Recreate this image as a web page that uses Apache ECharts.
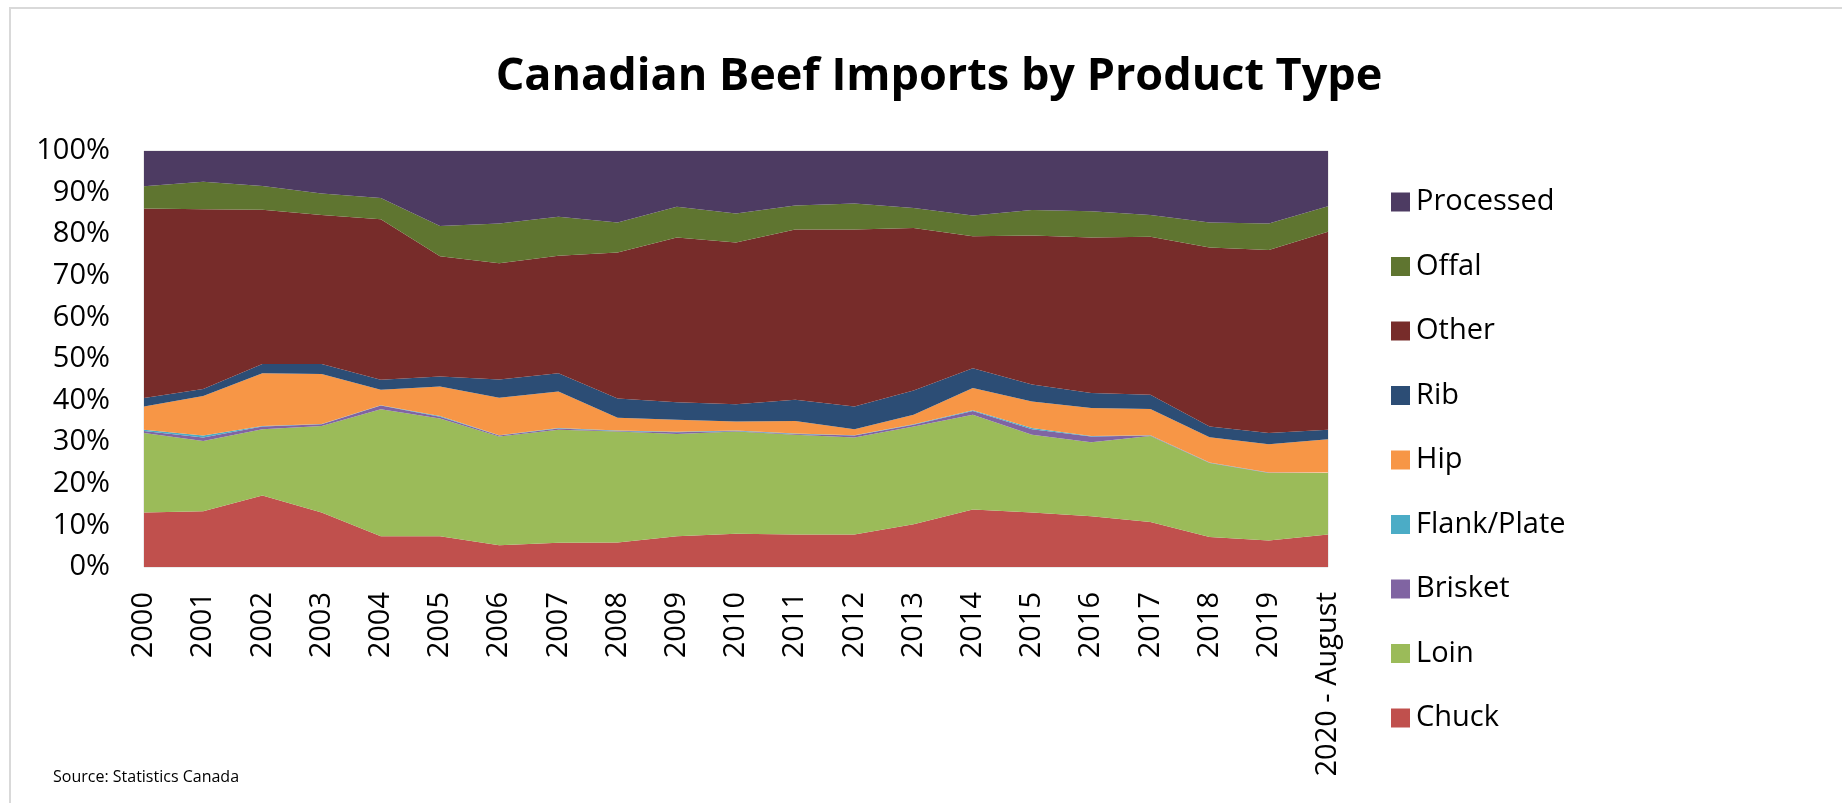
<!DOCTYPE html>
<html>
<head>
<meta charset="utf-8">
<script src="https://cdn.jsdelivr.net/npm/echarts@6/dist/echarts.min.js"></script>
<style>
html,body{margin:0;padding:0;background:#fff;}
#chart{width:1842px;height:803px;}
</style>
</head>
<body>
<div id="chart"></div>
<script>
var years = ['2000','2001','2002','2003','2004','2005','2006','2007','2008','2009','2010','2011','2012','2013','2014','2015','2016','2017','2018','2019','2020 - August'];
var chuck = [13.1,13.4,17.2,13.1,7.4,7.4,5.2,5.8,5.9,7.4,8.0,7.8,7.8,10.3,13.8,13.1,12.2,10.8,7.2,6.4,7.8];
var loin = [19.1,16.9,15.9,20.8,30.5,28.3,26.2,27.2,26.7,24.6,24.6,24.0,23.3,23.5,22.8,18.7,17.8,20.7,17.8,16.2,14.8];
var brisket = [0.5,0.8,0.7,0.4,0.9,0.4,0.2,0.3,0.1,0.4,0.1,0.2,0.5,0.4,0.9,1.3,1.4,0.1,0.05,0.05,0.05];
var flankPlate = [0.3,0.5,0.1,0.1,0.1,0.2,0.1,0.1,0.1,0.1,0.1,0.1,0.1,0.1,0.2,0.3,0.1,0.1,0.05,0.05,0.05];
var hip = [5.6,9.5,12.7,12.0,3.7,7.1,9.0,8.8,3.1,2.9,2.2,3.0,1.4,2.3,5.3,6.4,6.7,6.3,6.1,6.8,8.0];
var rib = [2.0,1.7,2.2,2.4,2.4,2.4,4.4,4.4,4.6,4.2,4.1,5.1,5.5,5.8,4.8,4.1,3.6,3.4,2.6,2.7,2.3];
var other = [45.6,43.2,37.1,35.8,38.6,28.9,27.9,28.2,35.1,39.6,38.9,40.9,42.5,39.1,31.7,35.8,37.4,38.0,43.0,44.0,47.6];
var offal = [5.3,6.6,5.7,5.2,5.1,7.3,9.6,9.4,7.2,7.4,7.0,5.8,6.3,4.8,5.0,6.1,6.3,5.2,6.0,6.4,6.1];
var processed = [8.5,7.4,8.4,10.2,11.3,18.0,17.4,15.8,17.2,13.4,15.0,13.1,12.6,13.7,15.5,14.2,14.5,15.5,17.2,17.4,13.3];

var seriesDefs = [
  ['Chuck', chuck, '#C0504D'],
  ['Loin', loin, '#9BBB59'],
  ['Brisket', brisket, '#8064A2'],
  ['Flank/Plate', flankPlate, '#4BACC6'],
  ['Hip', hip, '#F79646'],
  ['Rib', rib, '#2C4D75'],
  ['Other', other, '#772C2A'],
  ['Offal', offal, '#5F7530'],
  ['Processed', processed, '#4D3B62']
];

var chart = echarts.init(document.getElementById('chart'));
var font = "'Open Sans', sans-serif";
chart.setOption({
  animation: false,
  backgroundColor: '#ffffff',
  title: {
    text: 'Canadian Beef Imports by Product Type',
    left: 934, top: 50, textAlign: 'center',
    textStyle: {fontFamily: font, fontWeight: 'bold', fontSize: 45, color: '#000'}
  },
  graphic: [
    {type: 'rect', shape: {x: 10, y: 8, width: 1860, height: 820}, style: {fill: 'none', stroke: '#d9d9d9', lineWidth: 2}, silent: true},
    {type: 'text', left: 53, top: 769, style: {text: 'Source: Statistics Canada', font: "16px 'Open Sans', sans-serif", fill: '#000'}}
  ],
  legend: {
    orient: 'vertical', left: 1386, top: 182,
    data: ['Processed','Offal','Other','Rib','Hip','Flank/Plate','Brisket','Loin','Chuck'],
    icon: 'rect', itemWidth: 19, itemHeight: 19, itemGap: 34.5,
    textStyle: {fontFamily: font, fontSize: 29, color: '#000', lineHeight: 30, padding: [0,0,0,1]}
  },
  grid: {left: 144, right: 514, top: 151, bottom: 236, show: true, borderColor: '#d9d9d9', borderWidth: 1},
  xAxis: {
    type: 'category', data: years, boundaryGap: false,
    axisLine: {show: false}, axisTick: {show: false},
    axisLabel: {rotate: 90, margin: 25, interval: 0, fontFamily: font, fontSize: 29, color: '#000'}
  },
  yAxis: {
    type: 'value', min: 0, max: 100, interval: 10,
    splitLine: {show: false}, axisLine: {show: false}, axisTick: {show: false},
    axisLabel: {formatter: '{value}%', margin: 34, fontFamily: font, fontSize: 29, color: '#000'}
  },
  series: seriesDefs.map(function (d) {
    return {
      name: d[0], type: 'line', stack: 'total', data: d[1],
      symbol: 'none', lineStyle: {width: 0}, itemStyle: {color: d[2]},
      areaStyle: {color: d[2], opacity: 1}
    };
  })
});
</script>
</body>
</html>
